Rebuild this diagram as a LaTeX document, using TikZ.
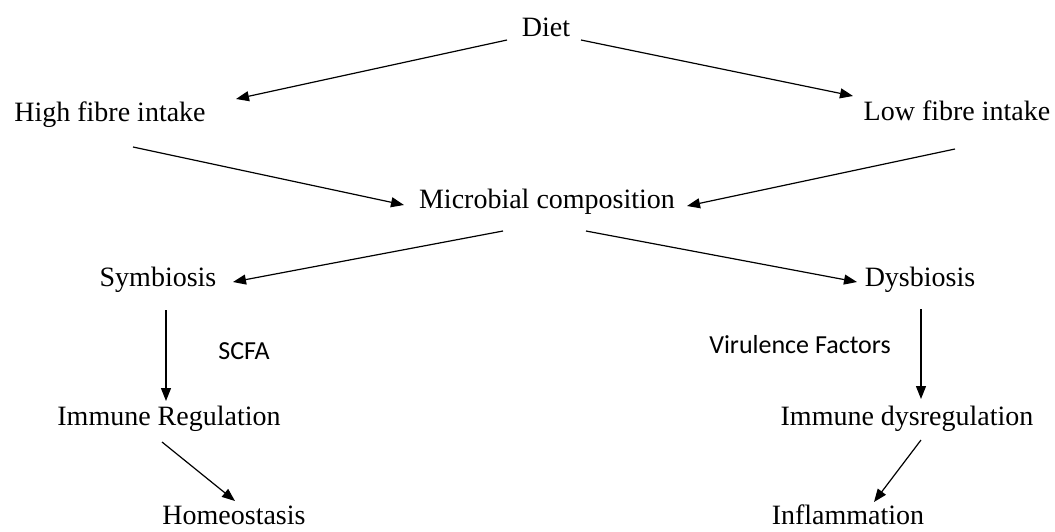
\documentclass[tikz,border=0pt]{standalone}
\usepackage{fontspec}
\setmainfont{Liberation Serif}
\newfontfamily\labelfont{Carlito}
\usetikzlibrary{arrows.meta}

\begin{document}
\begin{tikzpicture}[>={Triangle[length=6.5pt,width=5pt]}, x=0.5pt, y=-0.5pt,
  every node/.style={font=\fontsize{14}{17}\selectfont, inner sep=0pt, text height=0.75em, text depth=0.1em},
  lbl/.style={font=\labelfont\fontsize{13}{16}\selectfont}]
\useasboundingbox (0,0) rectangle (1055,531);
% levels
\node (diet)  at (546,30)  {Diet};
\node (high)  at (110,115) {High fibre intake};
\node (low)   at (957,114) {Low fibre intake};
\node (micro) at (547,202) {Microbial composition};
\node (sym)   at (158,280) {Symbiosis};
\node (dys)   at (920,280) {Dysbiosis};
\node (ir)    at (169,419) {Immune Regulation};
\node (idys)  at (907,419) {Immune dysregulation};
\node (home)  at (234,518) {Homeostasis};
\node (infl)  at (848,518) {Inflammation};
\node[lbl] (scfa) at (244,353) {SCFA};
\node[lbl] (vir)  at (800,347) {Virulence Factors};
% arrows
\draw[->, line width=0.6pt] ([shift={(-39,10)}]diet.center) -- ([shift={(126,-16)}]high.center);
\draw[->, line width=0.6pt] ([shift={(35,10)}]diet.center) -- ([shift={(-104,-18)}]low.center);
\draw[->, line width=0.6pt] ([shift={(23,32)}]high.center) -- ([shift={(-143,3)}]micro.center);
\draw[->, line width=0.6pt] ([shift={(-2,35)}]low.center) -- ([shift={(140,4)}]micro.center);
\draw[->, line width=0.6pt] ([shift={(-44,29)}]micro.center) -- ([shift={(75,2)}]sym.center);
\draw[->, line width=0.6pt] ([shift={(39,29)}]micro.center) -- ([shift={(-63,2)}]dys.center);
\draw[->, line width=0.6pt] ([shift={(8,30)}]sym.center) -- ([shift={(-3,-18)}]ir.center);
\draw[->, line width=0.6pt] ([shift={(1,29)}]dys.center) -- ([shift={(14,-20)}]idys.center);
\draw[->, line width=0.6pt] ([shift={(-7,23)}]ir.center) -- ([shift={(1,-17)}]home.center);
\draw[->, line width=0.6pt] ([shift={(14,21)}]idys.center) -- ([shift={(26,-16)}]infl.center);
\end{tikzpicture}
\end{document}
